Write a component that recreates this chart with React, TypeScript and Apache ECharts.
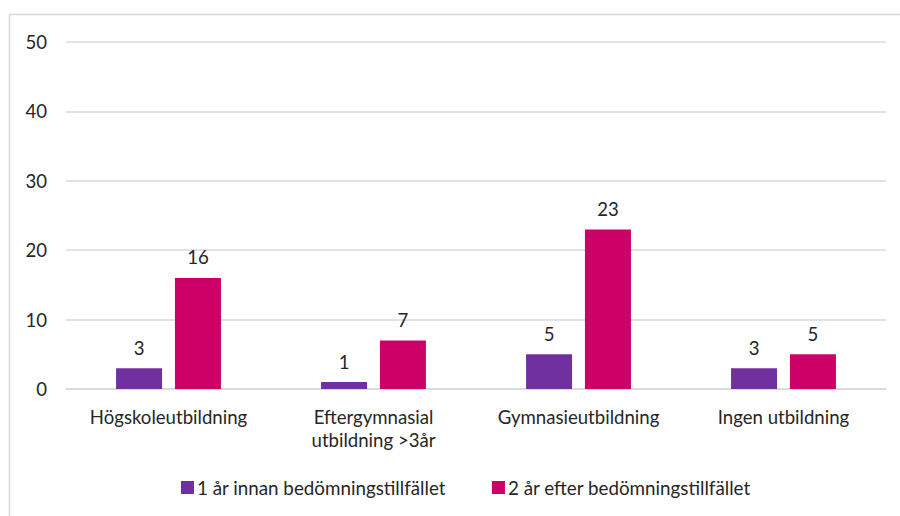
import React, { useEffect, useRef } from "react";
import * as echarts from "echarts";

const categories = ["Högskoleutbildning", "Eftergymnasial\nutbildning >3år", "Gymnasieutbildning", "Ingen utbildning"];
const seriesNames = ["1 år innan bedömningstillfället", "2 år efter bedömningstillfället"];
const before = [3, 1, 5, 3];
const after = [16, 7, 23, 5];
const colors = ["#7030A0", "#CC0066"];

export default function App() {
  const ref = useRef<HTMLDivElement>(null);
  useEffect(() => {
    if (!ref.current) return;
    const chart = echarts.init(ref.current, null, { renderer: "svg" });
    const font = "Lato, 'Open Sans', sans-serif";
    const fs = 18.6;
    chart.setOption({
      animation: false,
      textStyle: { fontFamily: font },
      graphic: [
        {
          type: "rect",
          shape: { x: 9.5, y: 14.5, width: 900, height: 510 },
          style: { fill: "none", stroke: "#d9d9d9", lineWidth: 1.5 },
          silent: true,
        },
      ],
      grid: { left: 66, right: 14, top: 42, bottom: 127 },
      legend: {
        bottom: 14,
        left: 176,
        itemWidth: 13,
        itemHeight: 13,
        itemGap: 46,
        icon: "rect",
        textStyle: { fontSize: 18.8, color: "#262626", fontFamily: font, padding: [0, 0, 0, -2] },
        data: seriesNames,
      },
      xAxis: {
        type: "category",
        data: categories,
        axisLine: { lineStyle: { color: "#d9d9d9", width: 1.5 } },
        axisTick: { show: false },
        axisLabel: { interval: 0, fontSize: fs, color: "#262626", margin: 16, lineHeight: 23, fontFamily: font },
      },
      yAxis: {
        type: "value",
        min: 0,
        max: 50,
        interval: 10,
        axisLine: { show: false },
        axisTick: { show: false },
        splitLine: { lineStyle: { color: "#d9d9d9", width: 1.5 } },
        axisLabel: { fontSize: fs, color: "#262626", margin: 19, fontFamily: font },
      },
      series: [
        {
          name: seriesNames[0],
          type: "bar",
          data: before,
          itemStyle: { color: colors[0] },
          barWidth: 46,
          barGap: "28%",
          label: { show: true, position: "top", distance: 11, fontSize: fs, color: "#262626", fontFamily: font },
        },
        {
          name: seriesNames[1],
          type: "bar",
          data: after,
          itemStyle: { color: colors[1] },
          barWidth: 46,
          barGap: "28%",
          label: { show: true, position: "top", distance: 11, fontSize: fs, color: "#262626", fontFamily: font },
        },
      ],
    });
    return () => chart.dispose();
  }, []);
  return (
    <div
      ref={ref}
      style={{ position: "fixed", left: 0, top: 0, width: 900, height: 516, background: "#fff" }}
    />
  );
}
